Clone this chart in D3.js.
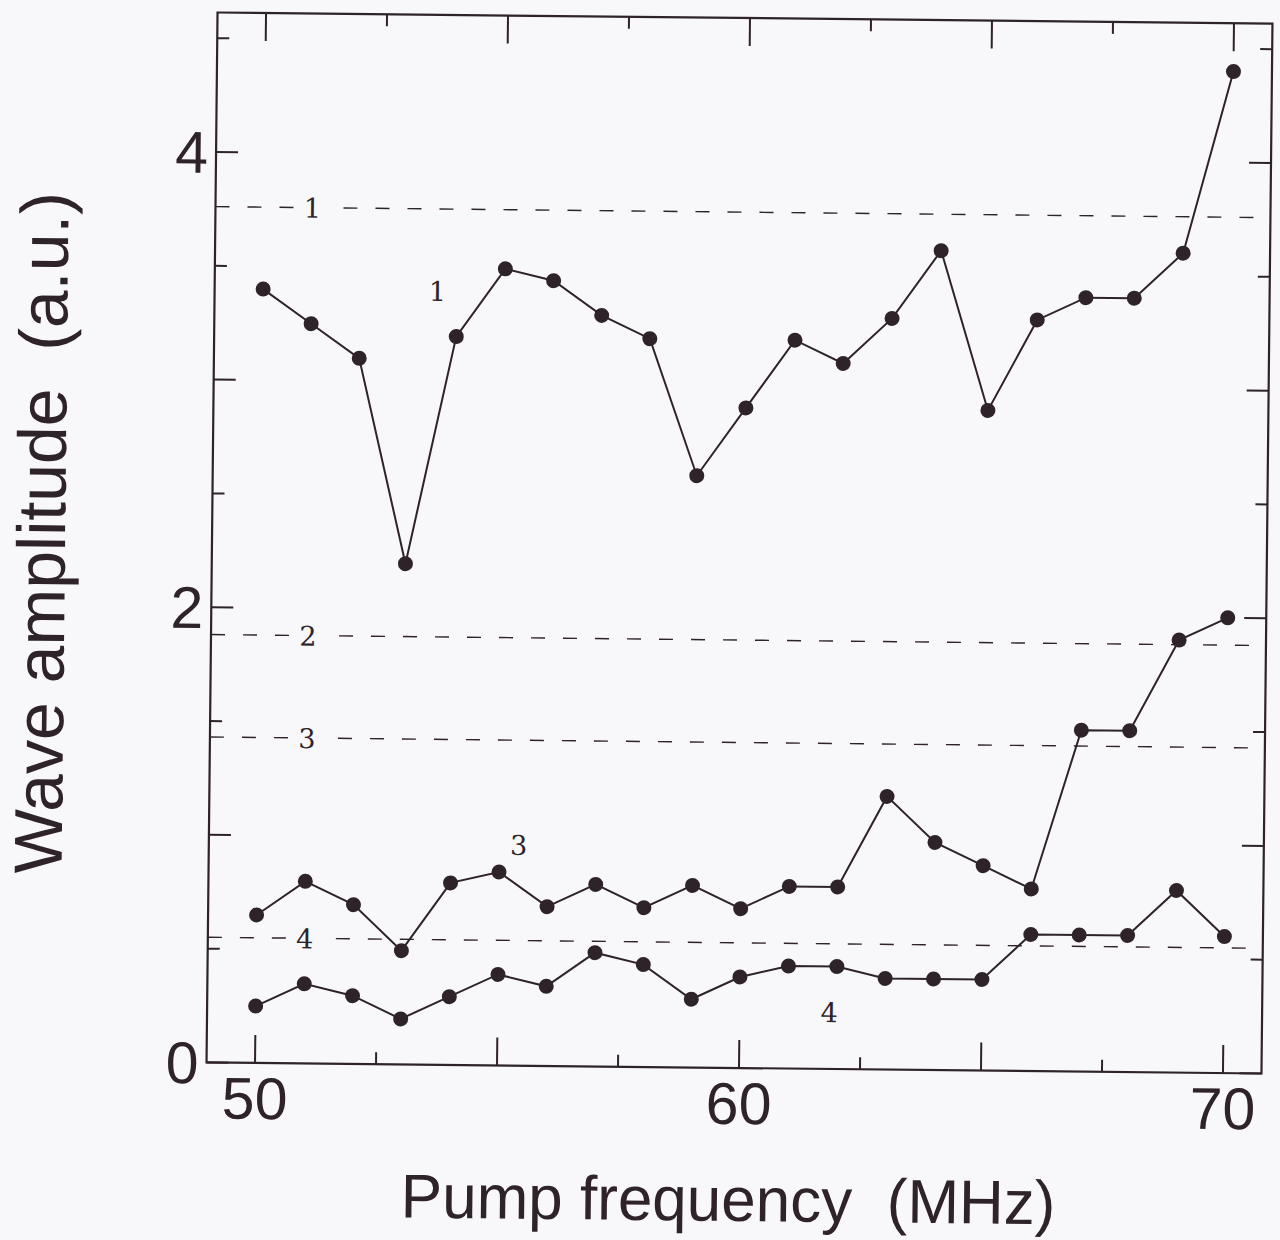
<!DOCTYPE html>
<html>
<head>
<meta charset="utf-8">
<title>Wave amplitude vs pump frequency</title>
<style>
	html, body { margin: 0; padding: 0; background: #f8f7f9; }
	svg { display: block; }
	text { fill: #2e2329; }
</style>
</head>
<body>
<svg id="chart" width="1280" height="1240"></svg>
<script src="https://cdn.jsdelivr.net/npm/d3@7"></script>
<script>
// pump frequency, MHz
var freqs = [50, 51, 52, 53, 54, 55, 56, 57, 58, 59, 60, 61, 62, 63, 64, 65, 66, 67, 68, 69, 70];

// wave amplitude (a.u.) for each curve
var curve1 = [3.4, 3.25, 3.1, 2.2, 3.2, 3.5, 3.45, 3.3, 3.2, 2.6, 2.9, 3.2, 3.1, 3.3, 3.6, 2.9, 3.3, 3.4, 3.4, 3.6, 4.4];
var curve3 = [0.65, 0.8, 0.7, 0.5, 0.8, 0.85, 0.7, 0.8, 0.7, 0.8, 0.7, 0.8, 0.8, 1.2, 1.0, 0.9, 0.8, 1.5, 1.5, 1.9, 2.0];
var curve4 = [0.25, 0.35, 0.3, 0.2, 0.3, 0.4, 0.35, 0.5, 0.45, 0.3, 0.4, 0.45, 0.45, 0.4, 0.4, 0.4, 0.6, 0.6, 0.6, 0.8, 0.6];

// reference levels (dashed lines) and their labels
var refLabels = ['1', '2', '3', '4'];
var refLevels = [3.76, 1.88, 1.43, 0.55];

// curve labels: [label, frequency, amplitude]
var curveLabels = [['1', 53.6, 3.4], ['3', 55.4, 0.97], ['4', 61.85, 0.25]];

var xTickLabels = [50, 60, 70];
var yTickLabels = [0, 2, 4];

var ink = '#2e2329';
var margin = { left: 212, right: 1267, top: 18, bottom: 1068 };

var svg = d3.select('#chart');
// the original is a slightly tilted scan
var g = svg.append('g').attr('transform', 'rotate(0.6,740,543)');

var x = d3.scaleLinear().domain([50, 70]).range([260.5, 1228.5]);
var y = d3.scaleLinear().domain([0, 4]).range([1068, 157.5]);

// frame
g.append('rect')
	.attr('x', margin.left).attr('y', margin.top)
	.attr('width', margin.right - margin.left)
	.attr('height', margin.bottom - margin.top)
	.attr('fill', 'none').attr('stroke', ink).attr('stroke-width', 2.2);

// x ticks: long every 5, short every 2.5, labels at 50/60/70
var xMajor = d3.range(50, 70.1, 5);
var xMinor = d3.range(52.5, 70, 5);
function xTicks(vals, len) {
	g.append('g').selectAll('line.b').data(vals).enter().append('line')
		.attr('x1', function (d) { return x(d); }).attr('x2', function (d) { return x(d); })
		.attr('y1', margin.bottom).attr('y2', margin.bottom - len)
		.attr('stroke', ink).attr('stroke-width', 2);
	g.append('g').selectAll('line.t').data(vals).enter().append('line')
		.attr('x1', function (d) { return x(d); }).attr('x2', function (d) { return x(d); })
		.attr('y1', margin.top).attr('y2', margin.top + len)
		.attr('stroke', ink).attr('stroke-width', 2);
}
xTicks(xMajor, 28);
xTicks(xMinor, 12);

// y ticks: long every 1, short every 0.5
var yMajor = d3.range(0, 4.6, 1);
var yMinor = d3.range(0.5, 4.6, 1);
function yTicks(vals, len) {
	g.append('g').selectAll('line.l').data(vals).enter().append('line')
		.attr('x1', margin.left).attr('x2', margin.left + len)
		.attr('y1', function (d) { return y(d); }).attr('y2', function (d) { return y(d); })
		.attr('stroke', ink).attr('stroke-width', 2);
	g.append('g').selectAll('line.r').data(vals).enter().append('line')
		.attr('x1', margin.right).attr('x2', margin.right - len)
		.attr('y1', function (d) { return y(d); }).attr('y2', function (d) { return y(d); })
		.attr('stroke', ink).attr('stroke-width', 2);
}
yTicks(yMajor, 22);
yTicks(yMinor, 12);

// tick labels
g.append('g').selectAll('text').data(xTickLabels).enter().append('text')
	.attr('x', function (d) { return x(d); })
	.attr('y', margin.bottom + 56)
	.attr('text-anchor', 'middle')
	.style('font-family', 'Liberation Sans, Arial, sans-serif')
	.style('font-size', '59px')
	.text(function (d) { return d; });

g.append('g').selectAll('text').data(yTickLabels).enter().append('text')
	.attr('x', margin.left - 8)
	.attr('y', function (d) { return y(d) + 21; })
	.attr('text-anchor', 'end')
	.style('font-family', 'Liberation Sans, Arial, sans-serif')
	.style('font-size', '59px')
	.text(function (d) { return d; });

// axis titles
g.append('text')
	.attr('x', 735).attr('y', 1221)
	.attr('text-anchor', 'middle')
	.style('font-family', 'Liberation Sans, Arial, sans-serif')
	.style('font-size', '62px')
	.style('white-space', 'pre')
	.text('Pump frequency  (MHz)');

g.append('text')
	.attr('transform', 'translate(65,540) rotate(-90)')
	.attr('text-anchor', 'middle')
	.style('font-family', 'Liberation Sans, Arial, sans-serif')
	.style('font-size', '68px')
	.style('white-space', 'pre')
	.text('Wave amplitude  (a.u.)');

// dashed reference levels
g.append('g').selectAll('line').data(refLevels).enter().append('line')
	.attr('x1', margin.left).attr('x2', margin.right)
	.attr('y1', function (d) { return y(d); }).attr('y2', function (d) { return y(d); })
	.attr('stroke', ink).attr('stroke-width', 1.4)
	.attr('stroke-dasharray', '14,18');

var refG = g.append('g').selectAll('g').data(refLevels).enter().append('g')
	.attr('transform', function (d) { return 'translate(' + x(51) + ',' + y(d) + ')'; });
refG.append('rect')
	.attr('x', -17).attr('y', -15).attr('width', 34).attr('height', 30)
	.attr('fill', '#f8f7f9');
refG.append('text')
	.attr('y', 10)
	.attr('text-anchor', 'middle')
	.style('font-family', 'DejaVu Serif, Liberation Serif, serif')
	.style('font-size', '27px')
	.text(function (d, i) { return refLabels[i]; });

// curves
var line = d3.line()
	.x(function (d) { return x(d[0]); })
	.y(function (d) { return y(d[1]); });

[curve1, curve3, curve4].forEach(function (vals) {
	var pts = freqs.map(function (f, i) { return [f, vals[i]]; });
	g.append('path')
		.attr('d', line(pts))
		.attr('fill', 'none')
		.attr('stroke', ink)
		.attr('stroke-width', 2);
	g.append('g').selectAll('circle').data(pts).enter().append('circle')
		.attr('cx', function (d) { return x(d[0]); })
		.attr('cy', function (d) { return y(d[1]); })
		.attr('r', 7.5)
		.attr('fill', ink);
});

// curve labels
g.append('g').selectAll('text').data(curveLabels).enter().append('text')
	.attr('x', function (d) { return x(d[1]); })
	.attr('y', function (d) { return y(d[2]) + 10; })
	.attr('text-anchor', 'middle')
	.style('font-family', 'DejaVu Serif, Liberation Serif, serif')
	.style('font-size', '27px')
	.text(function (d) { return d[0]; });
</script>
</body>
</html>
